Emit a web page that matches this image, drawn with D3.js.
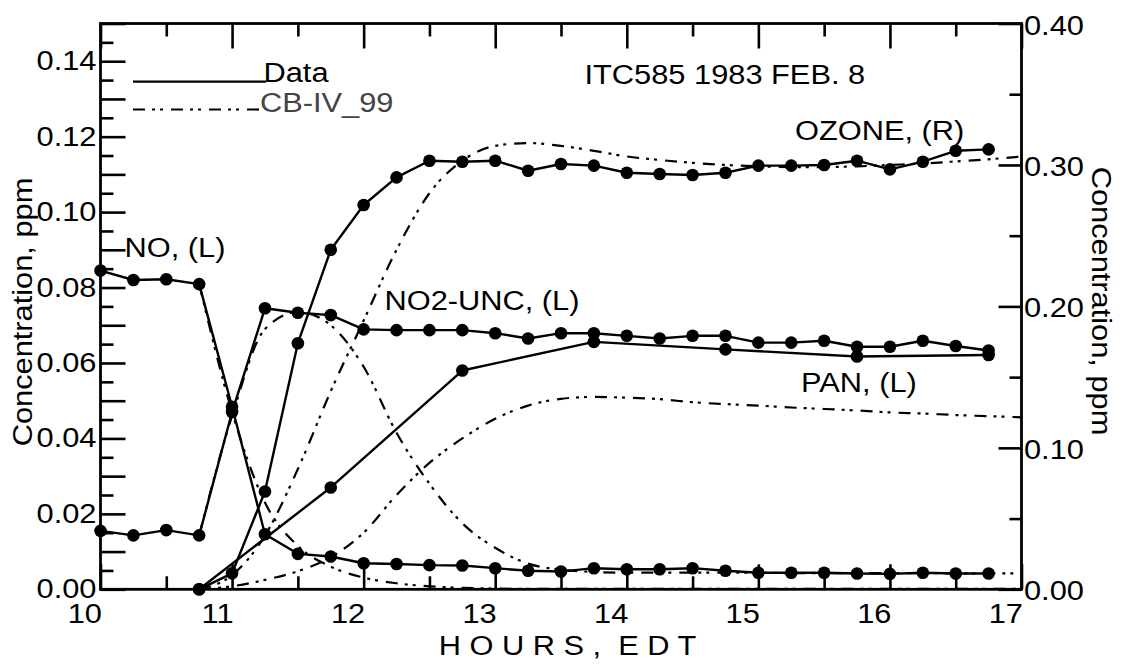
<!DOCTYPE html>
<html>
<head>
<meta charset="utf-8">
<script src="https://cdn.jsdelivr.net/npm/d3@7"></script>
<style>
  html, body { margin: 0; padding: 0; background: #fff; }
  svg { display: block; }
  text { font-family: "Liberation Sans", Arial, Helvetica, sans-serif; fill: #000; }
</style>
</head>
<body>
<svg id="chart" width="1123" height="665"></svg>
<script>
// ---------------- DATA ----------------
// Measured data (solid line with dots)
const noHours   = [10.0,10.25,10.5,10.75,11.0,11.25,11.5,11.75,12.0,12.25,12.5,12.75,13.0,13.25,13.5,13.75,14.0,14.25,14.5,14.75,15.0,15.25,15.5,15.75,16.0,16.25,16.5,16.75];
const noData    = [0.0845,0.0820,0.0822,0.0809,0.0484,0.0146,0.0094,0.0087,0.0069,0.0067,0.0064,0.0063,0.0056,0.0049,0.0047,0.0056,0.0053,0.0053,0.0056,0.0049,0.0044,0.0044,0.0044,0.0042,0.0041,0.0044,0.0042,0.0042];
const no2Hours  = [10.0,10.25,10.5,10.75,11.0,11.25,11.5,11.75,12.0,12.25,12.5,12.75,13.0,13.25,13.5,13.75,14.0,14.25,14.5,14.75,15.0,15.25,15.5,15.75,16.0,16.25,16.5,16.75];
const no2Data   = [0.0155,0.0143,0.0157,0.0143,0.0470,0.0745,0.0733,0.0727,0.0689,0.0687,0.0687,0.0687,0.0679,0.0665,0.0679,0.0679,0.0672,0.0665,0.0672,0.0672,0.0654,0.0654,0.0659,0.0643,0.0643,0.0659,0.0645,0.0633];
const o3Hours   = [10.75,11.0,11.25,11.5,11.75,12.0,12.25,12.5,12.75,13.0,13.25,13.5,13.75,14.0,14.25,14.5,14.75,15.0,15.25,15.5,15.75,16.0,16.25,16.5,16.75];
const o3Data    = [0.0,0.0113,0.0691,0.174,0.240,0.2717,0.2912,0.303,0.3023,0.303,0.2959,0.3007,0.2995,0.2945,0.2936,0.2929,0.2945,0.2995,0.2995,0.300,0.303,0.2969,0.3023,0.310,0.311];
const panHours  = [10.75,11.75,12.75,13.75,14.75,15.75,16.75];
const panData   = [0.0,0.027,0.058,0.0656,0.0636,0.0617,0.0621];

// Model CB-IV_99 (dash-dot-dot lines)
const modelHours = [10.75,11.0,11.25,11.5,11.75,12.0,12.25,12.5,12.75,13.0,13.25,13.5,13.75,14.0,14.25,14.5,14.75,15.0,15.25,15.5,15.75,16.0,16.25,16.5,16.75,17.0];
const noModel   = [0.081,0.047,0.023,0.0115,0.0060,0.0031,0.0016,0.0008,0.0004,0.0002,0.0001,0.0001,0.0001,0.0001,0.0001,0.0001,0.0001,0.0001,0.0001,0.0001,0.0001,0.0001,0.0001,0.0001,0.0001,0.0001];
const no2Model  = [0.0143,0.046,0.069,0.0735,0.0700,0.0590,0.0415,0.0280,0.0175,0.0110,0.0068,0.0052,0.0046,0.0044,0.0044,0.0044,0.0044,0.0044,0.0043,0.0043,0.0043,0.0043,0.0043,0.0042,0.0042,0.0042];
const o3Model   = [0.0,0.010,0.038,0.085,0.140,0.190,0.240,0.280,0.303,0.3135,0.3155,0.3135,0.310,0.306,0.3035,0.3015,0.300,0.299,0.2985,0.2985,0.299,0.300,0.301,0.3025,0.304,0.306];
const panModel  = [0.0,0.0008,0.0025,0.0048,0.0085,0.0150,0.0250,0.0335,0.0400,0.0452,0.0487,0.0505,0.0510,0.0508,0.0504,0.0496,0.0491,0.0487,0.0482,0.0478,0.0474,0.0469,0.0466,0.0462,0.0459,0.0456];

// Axis ticks / labels
const xLabelHours  = [10,11,12,13,14,15,16,17];
const xHalfHours   = [10.5,11.5,12.5,13.5,14.5,15.5,16.5];
const leftLabelVals  = [0.00,0.02,0.04,0.06,0.08,0.10,0.12,0.14];
const rightLabelVals = [0.00,0.10,0.20,0.30,0.40];
const rightMinorVals = [0.05,0.15,0.25,0.35];

const titleText   = "ITC585 1983 FEB. 8";
const legendItems = ["Data", "CB-IV_99"];
const seriesNames = ["NO, (L)", "NO2-UNC, (L)", "OZONE, (R)", "PAN, (L)"];
const xTitle = "H O U R S ,  E D T";
const yTitle = "Concentration, ppm";

// ---------------- LAYOUT ----------------
const P = { left: 100.5, right: 1021.5, top: 23.5, bottom: 589.3 };
const FS = 28, SX = 1.1;
const svg = d3.select("#chart");

const x  = d3.scaleLinear().domain([10, 17]).range([P.left, P.right]);
const yL = d3.scaleLinear().domain([0, 0.15]).range([P.bottom, P.top]);
const yR = d3.scaleLinear().domain([0, 0.40]).range([P.bottom, P.top]);

function styleAxis(g) {
  g.select(".domain").remove();
  g.selectAll(".tick line").attr("stroke", "#000").attr("stroke-width", 2.6);
  g.attr("font-family", null).attr("font-size", null);
}

// left axis
const leftMinor = d3.range(0.005, 0.15, 0.01);
const leftMajor = d3.range(0, 0.1501, 0.01);
svg.append("g").attr("transform", `translate(${P.left},0)`)
  .call(d3.axisLeft(yL).tickValues(leftMinor).tickSize(-13).tickFormat(""))
  .call(styleAxis).selectAll("text").remove();
const gl = svg.append("g").attr("transform", `translate(${P.left},0)`)
  .call(d3.axisLeft(yL).tickValues(leftMajor).tickSize(-25)
        .tickFormat(v => leftLabelVals.some(l => Math.abs(l - v) < 1e-9) ? d3.format(".2f")(v) : ""))
  .call(styleAxis);
gl.selectAll("text").attr("x", null).attr("dy", null)
  .attr("text-anchor", "end").style("font-size", FS + "px")
  .attr("transform", `translate(-4,8.5) scale(${SX},1)`);

// right axis
svg.append("g").attr("transform", `translate(${P.right},0)`)
  .call(d3.axisRight(yR).tickValues(rightMinorVals).tickSize(-12).tickFormat(""))
  .call(styleAxis).selectAll("text").remove();
const gr = svg.append("g").attr("transform", `translate(${P.right},0)`)
  .call(d3.axisRight(yR).tickValues(rightLabelVals).tickSize(-23).tickFormat(d3.format(".2f")))
  .call(styleAxis);
gr.selectAll("text").attr("x", null).attr("dy", null)
  .attr("text-anchor", "start").style("font-size", FS + "px")
  .attr("transform", `translate(2.5,10.5) scale(${SX},1)`);

// top axis
svg.append("g").attr("transform", `translate(0,${P.top})`)
  .call(d3.axisTop(x).tickValues(xHalfHours).tickSize(-13).tickFormat(""))
  .call(styleAxis).selectAll("text").remove();
svg.append("g").attr("transform", `translate(0,${P.top})`)
  .call(d3.axisTop(x).tickValues(xLabelHours).tickSize(-25).tickFormat(""))
  .call(styleAxis).selectAll("text").remove();

// bottom axis
svg.append("g").attr("transform", `translate(0,${P.bottom})`)
  .call(d3.axisBottom(x).tickValues(xHalfHours).tickSize(-13).tickFormat(""))
  .call(styleAxis).selectAll("text").remove();
const gb = svg.append("g").attr("transform", `translate(0,${P.bottom})`)
  .call(d3.axisBottom(x).tickValues(xLabelHours).tickSize(-25).tickFormat(d3.format("d")))
  .call(styleAxis);
gb.selectAll("text").attr("y", null).attr("dy", null)
  .attr("text-anchor", "end").style("font-size", FS + "px")
  .attr("transform", `translate(1,34) scale(${SX},1)`);

// frame
svg.append("rect").attr("x", P.left).attr("y", P.top)
  .attr("width", P.right - P.left).attr("height", P.bottom - P.top)
  .attr("fill", "none").attr("stroke", "#000").attr("stroke-width", 2.8);

// ---------------- SERIES ----------------
const DASH = "12,7,3,5,3,8";
const zip = (a, b) => a.map((h, i) => [h, b[i]]);

const lineL = d3.line().x(d => x(d[0])).y(d => yL(d[1]));
const lineR = d3.line().x(d => x(d[0])).y(d => yR(d[1]));
const curveL = d3.line().curve(d3.curveMonotoneX).x(d => x(d[0])).y(d => yL(d[1]));
const curveR = d3.line().curve(d3.curveMonotoneX).x(d => x(d[0])).y(d => yR(d[1]));

const models = [
  { pts: zip(modelHours, noModel),  gen: curveL },
  { pts: zip(modelHours, no2Model), gen: curveL },
  { pts: zip(modelHours, o3Model),  gen: curveR },
  { pts: zip(modelHours, panModel), gen: curveL },
];
models.forEach(m => {
  svg.append("path").attr("d", m.gen(m.pts))
    .attr("fill", "none").attr("stroke", "#000").attr("stroke-width", 2.2)
    .attr("stroke-dasharray", DASH);
});

const datas = [
  { pts: zip(noHours, noData),   gen: lineL, y: yL },
  { pts: zip(no2Hours, no2Data), gen: lineL, y: yL },
  { pts: zip(o3Hours, o3Data),   gen: lineR, y: yR },
  { pts: zip(panHours, panData), gen: lineL, y: yL },
];
datas.forEach(s => {
  svg.append("path").attr("d", s.gen(s.pts))
    .attr("fill", "none").attr("stroke", "#000").attr("stroke-width", 2.4)
    .attr("stroke-linejoin", "round");
});
datas.forEach(s => {
  svg.append("g").selectAll("circle").data(s.pts).join("circle")
    .attr("cx", d => x(d[0])).attr("cy", d => s.y(d[1])).attr("r", 6.3).attr("fill", "#000");
});

// ---------------- TEXT ----------------
function txt(str, tx, ty, anchor, rot, color) {
  return svg.append("text")
    .attr("transform", `translate(${tx},${ty}) rotate(${rot || 0}) scale(${SX},1)`)
    .attr("text-anchor", anchor || "start")
    .style("font-size", FS + "px")
    .style("fill", color || "#000")
    .style("white-space", "pre")
    .text(str);
}

// legend
svg.append("line").attr("x1", 133).attr("x2", 266).attr("y1", 81.7).attr("y2", 81.7)
  .attr("stroke", "#000").attr("stroke-width", 2.2);
svg.append("line").attr("x1", 133).attr("x2", 262).attr("y1", 109.5).attr("y2", 109.5)
  .attr("stroke", "#000").attr("stroke-width", 2.2).attr("stroke-dasharray", DASH);
txt(legendItems[0], 263.5, 81.5);
txt(legendItems[1], 260, 111.5, "start", 0, "#444");

// title & series labels
txt(titleText, 584.5, 83.5);
txt(seriesNames[0], 124.5, 256.5);
txt(seriesNames[1], 384.5, 310);
txt(seriesNames[2], 795, 139.5);
txt(seriesNames[3], 801, 391.7);

// axis titles
txt(xTitle, 567.5, 655, "middle");
txt(yTitle, 32, 312, "middle", -90);
txt(yTitle, 1092, 301, "middle", 90);
</script>
</body>
</html>
